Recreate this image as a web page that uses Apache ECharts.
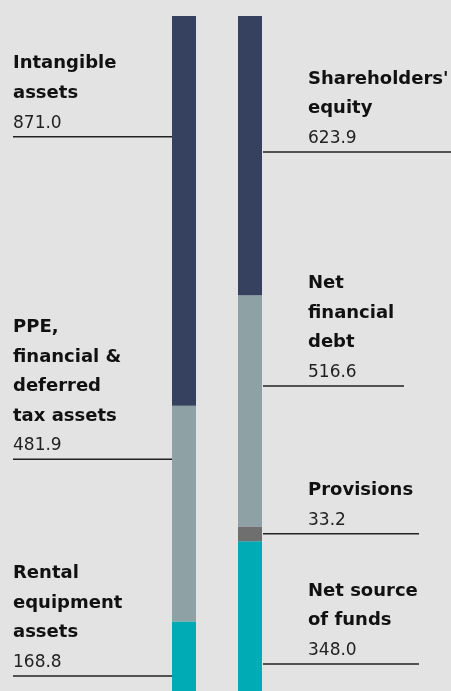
<!DOCTYPE html>
<html><head><meta charset="utf-8">
<script src="https://cdn.jsdelivr.net/npm/echarts@6/dist/echarts.min.js"></script>
<style>html,body{margin:0;padding:0;background:#e3e3e3}#c{width:451px;height:691px}</style>
</head><body><div id="c"></div>
<script>
// ---- data ----
const categories = ['Assets', 'Funding'];
const assetNames = ['Rental equipment assets', 'PPE, financial & deferred tax assets', 'Intangible assets'];
const assetValues = [168.8, 481.9, 871.0];
const fundingNames = ['Net source of funds', 'Provisions', 'Net financial debt', "Shareholders' equity"];
const fundingValues = [348.0, 33.2, 516.6, 623.9];
const assetLabelLines = [['Rental', 'equipment', 'assets'], ['PPE,', 'financial &', 'deferred', 'tax assets'], ['Intangible', 'assets']];
const fundingLabelLines = [['Net source', 'of funds'], ['Provisions'], ['Net', 'financial', 'debt'], ["Shareholders'", 'equity']];

// ---- styles / layout ----
const assetColors = ['#00abb6', '#8ea1a5', '#36405f'];
const fundingColors = ['#00abb6', '#6f6f6f', '#8ea1a5', '#36405f'];
const assetLabelDrop = [54.5, 53.5, 120.7];
const fundingLabelDrop = [122.7, 7.3, 90.8, 136];
const fundingLineEnd = [169, 169, 154, 201];
const FONT = '"DejaVu Sans", sans-serif';
const BOLD_SIZE = 18, NUM_SIZE = 17, LINE_H = 29.5;
const GRID_TOP = 16, BAR_OVERFLOW = 6; // bars continue 6px below the window edge

const total = assetValues.reduce((a, b) => a + b, 0);
const plotH = 691 - GRID_TOP;
const yMin = total * BAR_OVERFLOW / (plotH + BAR_OVERFLOW);

const series = [];
assetValues.forEach((v, i) => series.push({
  name: assetNames[i], type: 'bar', stack: 'total', barWidth: 24,
  data: [v, '-'], itemStyle: { color: assetColors[i] }, silent: true
}));
fundingValues.forEach((v, i) => series.push({
  name: fundingNames[i], type: 'bar', stack: 'total', barWidth: 24,
  data: ['-', v], itemStyle: { color: fundingColors[i] }, silent: true
}));

function cumTops(vals) { let s = 0; return vals.map(v => (s += v)); }
const labelData = [];
cumTops(assetValues).forEach((t, i) => labelData.push([0, t, i]));
cumTops(fundingValues).forEach((t, i) => labelData.push([1, t, i]));

function renderLabel(params, api) {
  const side = api.value(0), top = api.value(1), idx = api.value(2);
  const p = api.coord([side, top]);
  const cx = p[0], y0 = p[1];
  const lines = side === 0 ? assetLabelLines[idx] : fundingLabelLines[idx];
  const val = side === 0 ? assetValues[idx] : fundingValues[idx];
  const drop = side === 0 ? assetLabelDrop[idx] : fundingLabelDrop[idx];
  const lineY = y0 + drop;
  const tx = side === 0 ? cx - 171 : cx + 58;
  const numBase = lineY - 7.6;
  const children = [];
  children.push({ type: 'text', style: { text: val.toFixed(1), x: tx, y: numBase - 0.35 * NUM_SIZE,
    font: 'normal ' + NUM_SIZE + 'px ' + FONT, fill: '#222', align: 'left', verticalAlign: 'middle' } });
  lines.forEach((t, k) => {
    const base = numBase - LINE_H * (lines.length - k);
    children.push({ type: 'text', style: { text: t, x: tx, y: base - 0.35 * BOLD_SIZE,
      font: 'bold ' + BOLD_SIZE + 'px ' + FONT, fill: '#111', align: 'left', verticalAlign: 'middle' } });
  });
  const x1 = side === 0 ? cx - 171 : cx + 13;
  const x2 = side === 0 ? cx - 12 : cx + fundingLineEnd[idx];
  children.push({ type: 'line', shape: { x1: x1, y1: lineY, x2: x2, y2: lineY },
    style: { stroke: '#222', lineWidth: 1.4 } });
  return { type: 'group', children: children };
}

series.push({ type: 'custom', coordinateSystem: 'cartesian2d', data: labelData,
  renderItem: renderLabel, silent: true, clip: false, z: 5 });

const chart = echarts.init(document.getElementById('c'), null, { renderer: 'canvas' });
chart.setOption({
  backgroundColor: '#e3e3e3',
  animation: false,
  grid: { left: 151, right: 168, top: GRID_TOP, bottom: 0 },
  xAxis: { type: 'category', data: categories, show: false },
  yAxis: { type: 'value', min: yMin, max: total, show: false },
  series: series
});
</script></body></html>
